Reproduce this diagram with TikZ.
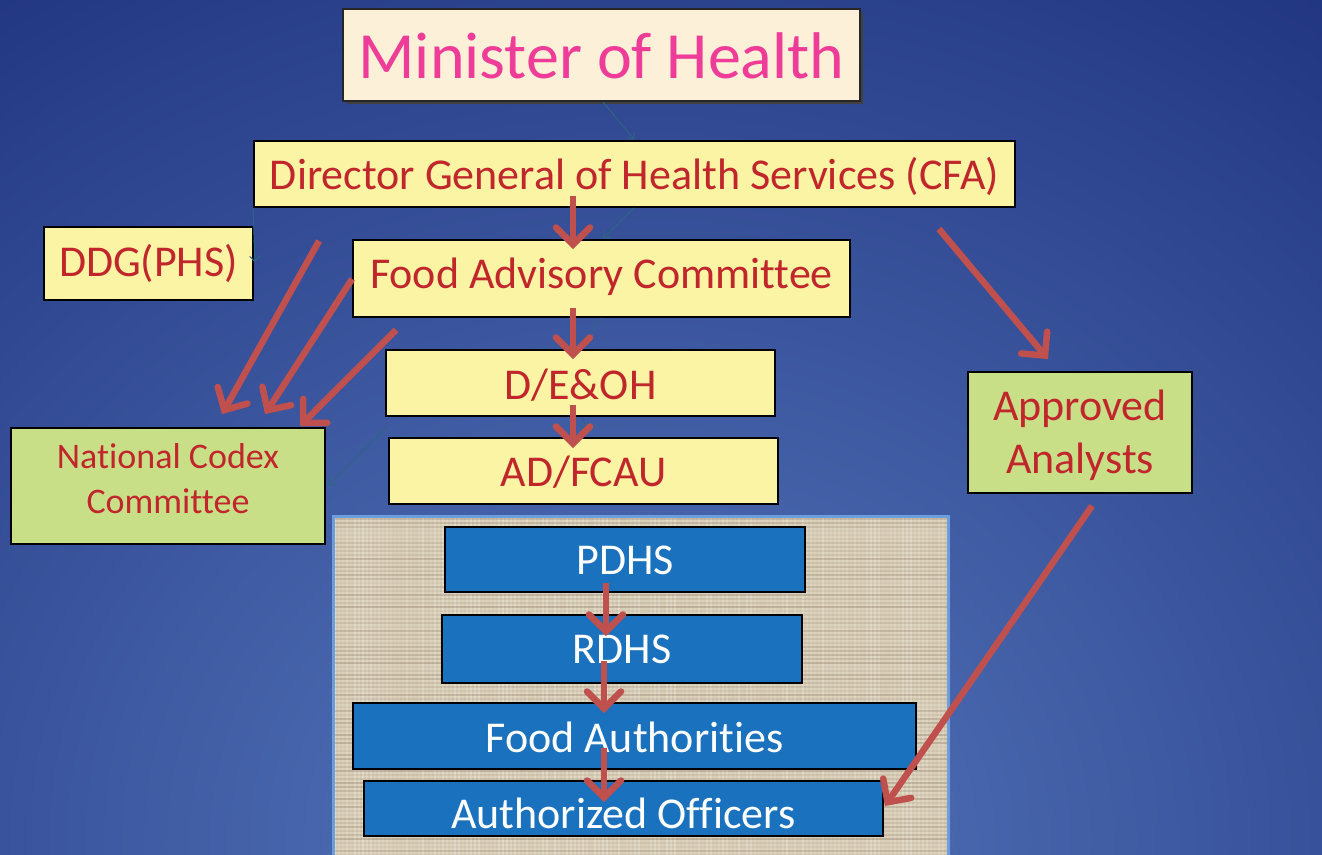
\documentclass[tikz,border=0pt]{standalone}
\usepackage{fontspec}
\setmainfont{Carlito}[Ligatures=NoCommon]
\usetikzlibrary{arrows.meta,calc}
\definecolor{bgIn}{HTML}{5577BC}
\definecolor{bgOut}{HTML}{213580}
\definecolor{boxyellow}{HTML}{FAF4A4}
\definecolor{boxgreen}{HTML}{C8DF88}
\definecolor{boxblue}{HTML}{1A71BD}
\definecolor{cream}{HTML}{FCF1D8}
\definecolor{txtred}{HTML}{C1262C}
\definecolor{txtpink}{HTML}{EE3C98}
\definecolor{arrred}{HTML}{C0504D}
\definecolor{thin}{HTML}{2F6486}
\definecolor{panelbg}{HTML}{D8CDB6}
\definecolor{panelborder}{HTML}{6C9DDC}
% a line of text whose baseline sits #1 above the node centre, centred horizontally
\newcommand\Ltext[2]{\makebox[0pt]{\raisebox{#1}[0pt][0pt]{#2}}}
\begin{document}
\begin{tikzpicture}[x=1pt,y=-1pt,
  boxbase/.style={draw=black, line width=1.8, inner sep=0pt},
  ybox/.style={boxbase, fill=boxyellow, text=txtred, font=\fontsize{44}{50}\selectfont},
  gbox/.style={boxbase, fill=boxgreen, text=txtred},
  bbox/.style={boxbase, fill=boxblue, text=white, font=\fontsize{44}{50}\selectfont},
  redarr/.style={draw=arrred, line width=6.5, -{Straight Barb[length=17pt,width=34pt,line cap=round]}},
  thinarr/.style={draw=thin, line width=1, -{Straight Barb[length=5pt,width=10pt]}}
]
\useasboundingbox (0,0) rectangle (1322,854);
% background
\begin{scope}
  \clip (0,0) rectangle (1322,854);
  \shade[inner color=bgIn, outer color=bgOut] (640,840) ellipse [x radius=1200, y radius=1050];
\end{scope}
% textured panel
\fill[panelbg] (333,516) rectangle (948,856);
\pgfmathsetseed{7}
\foreach \i in {0,...,152}{
  \pgfmathsetmacro\o{0.05+0.25*rnd}
  \draw[white, opacity=\o, line width=1.5] ({335+4*\i},516) -- ++(0,340);
}
\foreach \i in {0,...,84}{
  \pgfmathsetmacro\o{0.04+0.16*rnd}
  \draw[black!60!brown, opacity=\o, line width=1.2] (333,{519+4*\i}) -- ++(615,0);
}
\draw[panelborder, line width=3] (333,516) rectangle (948,858);

% nodes
\fill[black!75] (347,13) rectangle (863,104);
\node[boxbase, line width=2.2, draw=black!85, fill=cream, text=txtpink, font=\fontsize{66}{70}\selectfont,
  minimum width=517pt, minimum height=92pt] (min) at (601.5,55) {\Ltext{-23pt}{Minister of Health}};
\node[ybox, minimum width=761pt, minimum height=66pt] (dg) at (634.5,174) {\Ltext{-15pt}{Director General of Health Services (CFA)}};
\node[ybox, minimum width=209pt, minimum height=73pt] (ddg) at (148.5,263.5) {\Ltext{-12.5pt}{DDG(PHS)}};
\node[ybox, minimum width=497pt, minimum height=77pt] (fac) at (601.5,278.5) {\Ltext{-10pt}{Food Advisory Committee}};
\node[ybox, minimum width=389pt, minimum height=66pt] (deoh) at (580.5,383) {\Ltext{-16pt}{D/E\&OH}};
\node[ybox, minimum width=389pt, minimum height=66pt] (adf) at (583.5,471) {\Ltext{-15pt}{AD/FCAU}};
\node[gbox, font=\fontsize{36}{42}\selectfont, minimum width=314pt, minimum height=116pt] (ncc) at (168,486)
  {\Ltext{18pt}{National Codex}\Ltext{-27pt}{Committee}};
\node[gbox, font=\fontsize{44}{53}\selectfont, minimum width=224pt, minimum height=121pt] (aa) at (1080,432.5)
  {\Ltext{12.5pt}{Approved}\Ltext{-40.5pt}{Analysts}};
\node[bbox, minimum width=360pt, minimum height=65pt] (pdhs) at (625,559.5) {\Ltext{-14.5pt}{PDHS}};
\node[bbox, minimum width=360pt, minimum height=68pt] (rdhs) at (622,649) {\Ltext{-14pt}{RDHS}};
\node[bbox, minimum width=563pt, minimum height=66pt] (fa) at (634.5,736) {\Ltext{-16pt}{Food Authorities}};
\node[bbox, minimum width=519pt, minimum height=55pt] (ao) at (623.5,808.5) {\Ltext{-19.5pt}{Authorized Officers}};

% thin connectors
\draw[thinarr] ($(min.south)+(1.5,0)$) -- ($(dg.north)+(-0.5,-1)$);
\draw[thinarr] (dg.south) -- ($(fac.north)+(1.5,-1)$);
\draw[thinarr] (dg.south west) -- ($(ddg.east)+(1,-1.5)$);
\draw[thinarr] ($(fac.south)+(0.5,0)$) -- ($(deoh.north)+(2.5,-5)$);
\draw[thinarr] ($(deoh.south)+(1.5,0)$) -- ($(adf.north)+(3,-8)$);
\draw[thinarr] ($(adf.north west)+(-1,-10)$) -- ($(ncc.east)+(2,-1)$);

% red arrows
\draw[redarr] ($(dg.south)+(-61.5,-12)$) -- ($(fac.north)+(-28.5,10)$);
\draw[redarr] ($(fac.south)+(-28.5,-10)$) -- ($(deoh.north)+(-7.5,10)$);
\draw[redarr] ($(deoh.south)+(-7.5,-12)$) -- ($(adf.north)+(-10.5,11)$);
\draw[redarr] ($(pdhs.south)+(-19,-10)$) -- ($(rdhs.north)+(-16,22)$);
\draw[redarr] ($(rdhs.south)+(-18,-23)$) -- ($(fa.north)+(-30.5,11)$);
\draw[redarr] ($(fa.south)+(-30.5,-22)$) -- ($(ao.north)+(-19.5,22)$);
\draw[redarr] ($(dg.south west)+(66,33)$) -- ($(ncc.north)+(54,-13)$);
\draw[redarr] ($(fac.west)+(0,0.5)$) -- ($(ncc.north)+(97,-13)$);
\draw[redarr] ($(fac.south west)+(44,12)$) -- ($(ncc.north)+(132,-1)$);
\draw[redarr] ($(dg.south east)+(-77,21)$) -- ($(aa.north)+(-32,-12)$);
\draw[redarr] ($(aa.south)+(12,12)$) -- ($(ao.east)+(1,-2.5)$);
\end{tikzpicture}
\end{document}
